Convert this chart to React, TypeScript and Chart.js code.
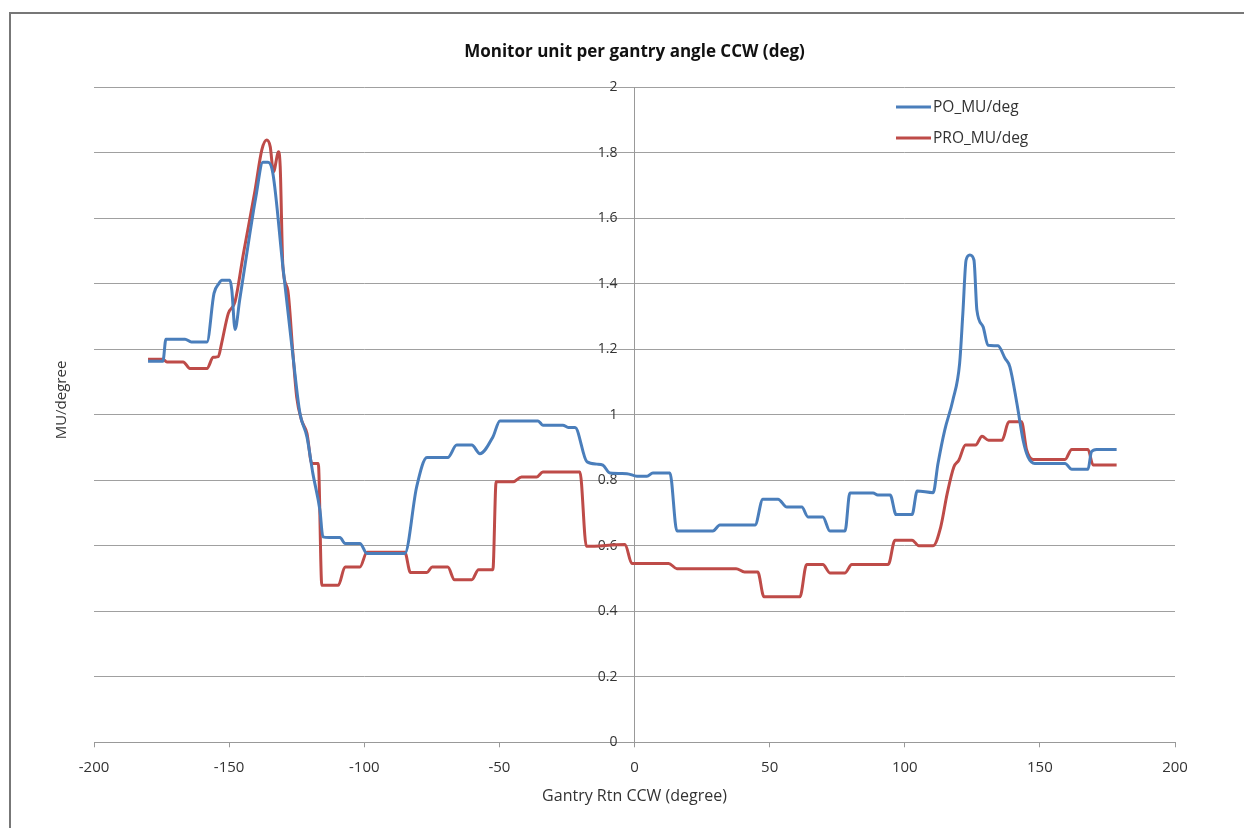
import React, { useEffect, useRef } from "react";
import { Chart, registerables } from "chart.js";

Chart.register(...registerables);

const poAngles = [-180, -174.5, -173.4, -166.3, -164, -158.2, -155.6, -153.8, -152.7, -149.7, -149.0, -147.8, -146.1, -142.3, -140.1, -137.5, -135.6, -133.8, -130.1, -126.4, -123.8, -121.2, -119.0, -116.4, -115.3, -113, -109.0, -107.1, -101.6, -99.0, -85.0, -80.6, -76.8, -69.1, -65.8, -60.2, -57.2, -52.4, -49.8, -35.7, -33.9, -26.5, -24.5, -22.0, -17.6, -13.9, -11.7, -9.1, -2.8, 0.9, 4.6, 6.8, 13.1, 15.7, 29.0, 31.6, 44.6, 47.5, 53.1, 56.4, 61.9, 64.2, 69.7, 72.3, 77.9, 79.7, 88.3, 90, 94.6, 96.8, 102.7, 104.6, 110.5, 112.3, 114.8, 117.8, 120.3, 121.5, 122.7, 124.1, 125.6, 126.7, 129.0, 130.8, 134.5, 137.1, 138.9, 141.5, 143.8, 145.6, 148.1, 159.3, 161.8, 167.8, 169.1, 171.0, 178.4];
const poValues = [1.163, 1.163, 1.23, 1.23, 1.222, 1.222, 1.37, 1.40, 1.41, 1.41, 1.38, 1.26, 1.35, 1.554, 1.665, 1.77, 1.77, 1.736, 1.451, 1.18, 1.004, 0.932, 0.82, 0.708, 0.627, 0.625, 0.625, 0.607, 0.607, 0.576, 0.576, 0.78, 0.869, 0.869, 0.907, 0.907, 0.881, 0.932, 0.981, 0.981, 0.968, 0.968, 0.961, 0.961, 0.856, 0.849, 0.846, 0.822, 0.82, 0.812, 0.812, 0.822, 0.822, 0.645, 0.645, 0.663, 0.663, 0.742, 0.742, 0.718, 0.718, 0.688, 0.688, 0.645, 0.645, 0.761, 0.761, 0.755, 0.755, 0.695, 0.695, 0.767, 0.762, 0.851, 0.953, 1.044, 1.156, 1.309, 1.472, 1.487, 1.472, 1.319, 1.268, 1.212, 1.21, 1.172, 1.146, 1.034, 0.922, 0.871, 0.851, 0.851, 0.833, 0.833, 0.887, 0.894, 0.894];

const proAngles = [-180, -174.5, -173, -167, -164.5, -158.2, -155.9, -154.0, -152.8, -150.3, -147.8, -144.7, -140.4, -137.9, -136.1, -134.8, -133.6, -131.7, -131.1, -130.1, -128.3, -126.4, -125.0, -123.2, -121.2, -119.4, -117.0, -115.7, -109.6, -107.1, -101.6, -99.0, -85.0, -82.9, -76.8, -74.9, -69.1, -66.6, -60.2, -57.7, -52.4, -51.2, -44.9, -41.8, -36.2, -33.9, -20.2, -17.8, -3.5, -1.0, 12.6, 15.7, 37.6, 40.7, 45.6, 47.9, 61.2, 63.7, 69.7, 72.3, 77.9, 80.4, 93.9, 96.4, 102.7, 105.2, 110.5, 113.3, 115.7, 118.2, 120.0, 122.5, 126.2, 128.6, 131.0, 136.0, 138.5, 143.2, 145.1, 147.6, 159.3, 161.8, 167.8, 169.7, 178.4];
const proValues = [1.169, 1.169, 1.161, 1.161, 1.141, 1.141, 1.175, 1.177, 1.217, 1.309, 1.345, 1.492, 1.685, 1.808, 1.838, 1.818, 1.741, 1.802, 1.757, 1.451, 1.38, 1.187, 1.054, 0.983, 0.943, 0.851, 0.851, 0.479, 0.479, 0.535, 0.535, 0.58, 0.58, 0.518, 0.518, 0.535, 0.535, 0.496, 0.496, 0.527, 0.527, 0.795, 0.795, 0.81, 0.81, 0.825, 0.825, 0.598, 0.604, 0.546, 0.546, 0.53, 0.53, 0.52, 0.52, 0.444, 0.444, 0.543, 0.543, 0.517, 0.517, 0.543, 0.543, 0.617, 0.617, 0.60, 0.60, 0.657, 0.759, 0.841, 0.861, 0.907, 0.907, 0.934, 0.922, 0.922, 0.978, 0.978, 0.892, 0.863, 0.863, 0.894, 0.894, 0.846, 0.846];

const seriesLabels = ["PO_MU/deg", "PRO_MU/deg"];
const seriesColors = ["#4a7ebb", "#be4b48"];

const xTickValues = [-200, -150, -100, -50, 0, 50, 100, 150, 200];
const yTickValues = [0, 0.2, 0.4, 0.6, 0.8, 1, 1.2, 1.4, 1.6, 1.8, 2];
const yTickLabels = ["0", "0.2", "0.4", "0.6", "0.8", "1", "1.2", "1.4", "1.6", "1.8", "2"];

const chartTitle = "Monitor unit per gantry angle CCW (deg)";
const xTitle = "Gantry Rtn CCW (degree)";
const yTitle = "MU/degree";

const FONT = "'Open Sans', 'DejaVu Sans', sans-serif";

const insideDecor = {
  id: "insideDecor",
  afterDatasetsDraw(chart: any) {
    const { ctx, chartArea } = chart;
    ctx.save();
    // legend inside the plot area
    chart.data.datasets.forEach((ds: any, i: number) => {
      const y = chartArea.top + 20 + i * 31;
      const x0 = chartArea.right - 279;
      ctx.strokeStyle = ds.borderColor;
      ctx.lineWidth = 3;
      ctx.beginPath();
      ctx.moveTo(x0, y);
      ctx.lineTo(x0 + 35, y);
      ctx.stroke();
      ctx.fillStyle = "#333";
      ctx.font = `15.5px ${FONT}`;
      ctx.textBaseline = "middle";
      ctx.textAlign = "left";
      ctx.fillText(ds.label, x0 + 37, y + 1);
    });
    // y axis title at the far left
    ctx.translate(chartArea.left - 32, chartArea.top + 313);
    ctx.rotate(-Math.PI / 2);
    ctx.fillStyle = "#333";
    ctx.font = `15px ${FONT}`;
    ctx.textAlign = "center";
    ctx.textBaseline = "middle";
    ctx.fillText(yTitle, 0, 0);
    ctx.restore();
  },
};

export default function App() {
  const canvasRef = useRef<HTMLCanvasElement | null>(null);

  useEffect(() => {
    if (!canvasRef.current) return;
    const toPoints = (xs: number[], ys: number[]) => xs.map((x, i) => ({ x, y: ys[i] }));
    const chart = new Chart(canvasRef.current, {
      type: "scatter",
      data: {
        datasets: [
          {
            label: seriesLabels[0],
            data: toPoints(poAngles, poValues),
            borderColor: seriesColors[0],
            backgroundColor: seriesColors[0],
            showLine: true,
            borderWidth: 3,
            pointRadius: 0,
            cubicInterpolationMode: "monotone",
          },
          {
            label: seriesLabels[1],
            data: toPoints(proAngles, proValues),
            borderColor: seriesColors[1],
            backgroundColor: seriesColors[1],
            showLine: true,
            borderWidth: 3,
            pointRadius: 0,
            cubicInterpolationMode: "monotone",
          },
        ],
      },
      options: {
        responsive: false,
        animation: false,
        layout: { padding: { top: 0, left: 94, right: 69, bottom: 1 } },
        plugins: {
          legend: { display: false },
          tooltip: { enabled: false },
          title: {
            display: true,
            fullSize: false,
            text: chartTitle,
            color: "#111",
            font: { family: FONT, size: 17, weight: "bold" },
            padding: { top: 42, bottom: 24.6 },
          },
        },
        scales: {
          x: {
            type: "linear",
            position: "bottom",
            min: -200,
            max: 200,
            afterBuildTicks: (scale: any) => {
              scale.ticks = xTickValues.map((v) => ({ value: v }));
            },
            ticks: {
              color: "#333",
              font: { family: FONT, size: 15 },
              padding: 11,
              callback: (v: any) => String(v),
            },
            grid: { display: true, drawOnChartArea: false, drawTicks: true, tickLength: 5, color: "#999" },
            border: { display: true, color: "#999" },
            title: {
              display: true,
              text: xTitle,
              color: "#333",
              font: { family: FONT, size: 16 },
              padding: { top: 0, bottom: 20.5 },
            },
          },
          y: {
            type: "linear",
            position: "center",
            min: 0,
            max: 2,
            afterBuildTicks: (scale: any) => {
              scale.ticks = yTickValues.map((v) => ({ value: v }));
            },
            ticks: {
              color: "#333",
              font: { family: FONT, size: 14 },
              padding: 12,
              callback: (v: any) => {
                const i = yTickValues.findIndex((t) => Math.abs(t - v) < 1e-9);
                return i >= 0 ? yTickLabels[i] : "";
              },
            },
            grid: { display: true, drawTicks: true, tickLength: 5, color: "#a0a0a0" },
            border: { display: true, color: "#999" },
          },
        },
      } as any,
      plugins: [insideDecor],
    });
    return () => chart.destroy();
  }, []);

  return (
    <div style={{ position: "fixed", left: 0, top: 0, width: 1244, height: 828, background: "#fff" }}>
      <div
        style={{
          position: "absolute",
          left: 9,
          top: 12,
          width: 1260,
          height: 900,
          borderLeft: "2px solid #777",
          borderTop: "2px solid #777",
        }}
      />
      <canvas ref={canvasRef} width={1244} height={828} style={{ position: "absolute", left: 0, top: 0 }} />
    </div>
  );
}
